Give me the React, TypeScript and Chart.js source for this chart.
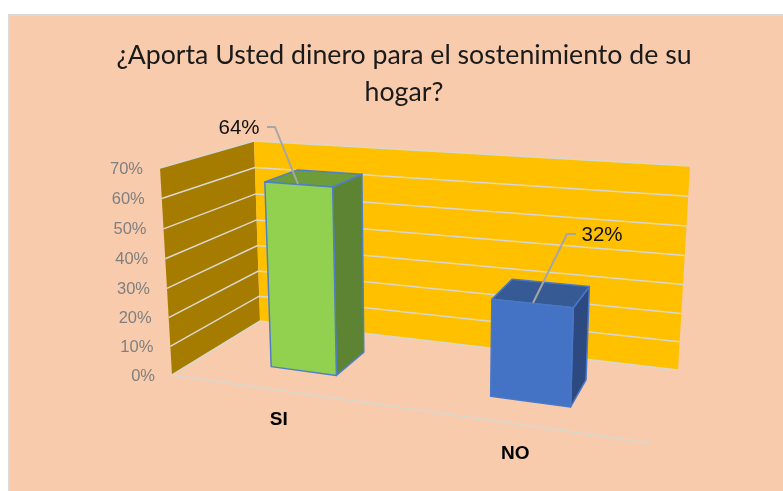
import React, { useEffect, useRef } from "react";
import { Chart, registerables } from "chart.js";

Chart.register(...registerables);

const titleLines = ["¿Aporta Usted dinero para el sostenimiento de su", "hogar?"];
const categories = ["SI", "NO"];
const shares = [64, 32];
const barFaces = ["#92D14F", "#4472C4"];
const barTops = ["#6E9C3B", "#365A94"];
const barSides = ["#5C8432", "#2C4A80"];
const barEdges = ["#4F7FC4", "#4A78C8"];
const yMin = 0;
const yMax = 70;
const yStep = 10;

type Pt = [number, number];
// projected corners of the 3D box: [u][depth][v]
const C: Record<string, Pt> = {
  "000": [172, 375],
  "001": [160, 168],
  "010": [260, 321],
  "011": [254, 141],
  "100": [650, 443],
  "101": [659, 204],
  "110": [678, 370],
  "111": [690, 166],
};
function P(u: number, d: number, v: number): Pt {
  let x = 0;
  let y = 0;
  for (const a of [0, 1]) for (const b of [0, 1]) for (const c of [0, 1]) {
    const w = (a ? u : 1 - u) * (b ? d : 1 - d) * (c ? v : 1 - v);
    const p = C[`${a}${b}${c}`];
    x += w * p[0];
    y += w * p[1];
  }
  return [x, y];
}
// perspective foreshortening along the category and value axes
const warp = (u: number) => 0.013 + 0.79 * u + 0.2 * u * u;
const warpV = (v: number) => v - 0.04 * v * (1 - v);

function poly(ctx: CanvasRenderingContext2D, pts: Pt[], fill: string | null, stroke?: string, lw = 1.5) {
  ctx.beginPath();
  pts.forEach((p, i) => (i ? ctx.lineTo(p[0], p[1]) : ctx.moveTo(p[0], p[1])));
  ctx.closePath();
  if (fill) { ctx.fillStyle = fill; ctx.fill(); }
  if (stroke) { ctx.strokeStyle = stroke; ctx.lineWidth = lw; ctx.lineJoin = "round"; ctx.stroke(); }
}
function line(ctx: CanvasRenderingContext2D, pts: Pt[], color: string, lw: number) {
  ctx.beginPath();
  pts.forEach((p, i) => (i ? ctx.lineTo(p[0], p[1]) : ctx.moveTo(p[0], p[1])));
  ctx.strokeStyle = color;
  ctx.lineWidth = lw;
  ctx.stroke();
}

const GRID = "#DAD7CF";
const D_FRONT = 0.33;
const D_BACK = 0.72;
const leaders: Pt[][] = [
  [[267, 127], [275, 127], [298, 184]],
  [[576, 234], [567, 234], [533, 303]],
];
const labelAnchors: Pt[] = [[239, 128], [602, 235]];

const scene3d = {
  id: "scene3d",
  beforeDatasetsDraw(chart: any) {
    const ctx: CanvasRenderingContext2D = chart.ctx;
    const a = chart.chartArea;
    const ys = chart.scales.y;
    const toV = (py: number) => warpV((a.bottom - py) / (a.bottom - a.top));
    ctx.save();
    // walls
    poly(ctx, [P(0, 0, 0), P(0, 0, 1), P(0, 1, 1), P(0, 1, 0)], "#A67C00");
    poly(ctx, [P(0, 1, 0), P(0, 1, 1), P(1, 1, 1), P(1, 1, 0)], "#FFC000");
    // floor edge
    line(ctx, [P(0, 0, 0), P(1, 0, 0)], GRID, 1.5);
    // gridlines + tick labels from the value scale
    ctx.font = "16.5px 'Liberation Sans'";
    ctx.textAlign = "right";
    ctx.textBaseline = "middle";
    ys.ticks.forEach((t: any) => {
      const v = toV(ys.getPixelForValue(t.value));
      line(ctx, [P(0, 0, v), P(0, 1, v), P(1, 1, v)], GRID, 1.5);
      const q = P(0, 0, v);
      ctx.fillStyle = "#7F7F7F";
      ctx.fillText(`${t.value}%`, q[0] - 17, q[1] + 1);
    });
    // bars
    const meta = chart.getDatasetMeta(0);
    meta.data.forEach((bar: any, i: number) => {
      const u1 = warp((bar.x - bar.width / 2 - a.left) / (a.right - a.left));
      const u2 = warp((bar.x + bar.width / 2 - a.left) / (a.right - a.left));
      const v = toV(bar.y);
      const v0 = toV(bar.base);
      const e = barEdges[i];
      poly(ctx, [P(u2, D_FRONT, v0), P(u2, D_FRONT, v), P(u2, D_BACK, v), P(u2, D_BACK, v0)], barSides[i], e);
      poly(ctx, [P(u1, D_FRONT, v), P(u1, D_BACK, v), P(u2, D_BACK, v), P(u2, D_FRONT, v)], barTops[i], e);
      poly(ctx, [P(u1, D_FRONT, v0), P(u1, D_FRONT, v), P(u2, D_FRONT, v), P(u2, D_FRONT, v0)], barFaces[i], e);
      line(ctx, leaders[i], "#A6A6A6", 2);
      ctx.font = "20.5px 'Liberation Sans'";
      ctx.textAlign = "center";
      ctx.textBaseline = "middle";
      ctx.fillStyle = "#111111";
      ctx.fillText(`${shares[i]}%`, labelAnchors[i][0], labelAnchors[i][1]);
      // category label
      const c = P((u1 + u2) / 2, 0, 0);
      ctx.font = "bold 19px 'Liberation Sans'";
      ctx.fillStyle = "#000000";
      ctx.fillText(categories[i], c[0] - 0.5, c[1] + 30);
    });
    ctx.restore();
  },
};

export default function App() {
  const ref = useRef<HTMLCanvasElement>(null);
  useEffect(() => {
    if (!ref.current) return;
    const chart = new Chart(ref.current, {
      type: "bar",
      data: {
        labels: categories,
        datasets: [{
          data: shares,
          backgroundColor: "rgba(0,0,0,0)",
          barPercentage: 0.32,
          categoryPercentage: 1,
        }],
      },
      options: {
        animation: false,
        responsive: false,
        layout: { padding: { left: 100, right: 100, top: 0, bottom: 40 } },
        plugins: {
          legend: { display: false },
          tooltip: { enabled: false },
          title: {
            display: true,
            text: titleLines,
            color: "#1A1A1A",
            font: { family: "Lato", size: 26.7, weight: "normal", lineHeight: 1.39 },
            padding: { top: 37, bottom: 10 },
          },
        },
        scales: {
          x: { display: false },
          y: { display: false, min: yMin, max: yMax, ticks: { stepSize: yStep } },
        },
      },
      plugins: [scene3d],
    });
    return () => chart.destroy();
  }, []);
  return (
    <div style={{ position: "fixed", left: 0, top: 0, width: 783, height: 491, overflow: "hidden", background: "#fff" }}>
      <div style={{ position: "absolute", left: 8, top: 14, width: 775, height: 477, background: "#F8CBAD", borderLeft: "2px solid #D9D9D9", borderTop: "2px solid #D9D9D9", boxSizing: "border-box" }} />
      <canvas ref={ref} width={808} height={491} style={{ position: "absolute", left: 0, top: 0, width: 808, height: 491 }} />
    </div>
  );
}
